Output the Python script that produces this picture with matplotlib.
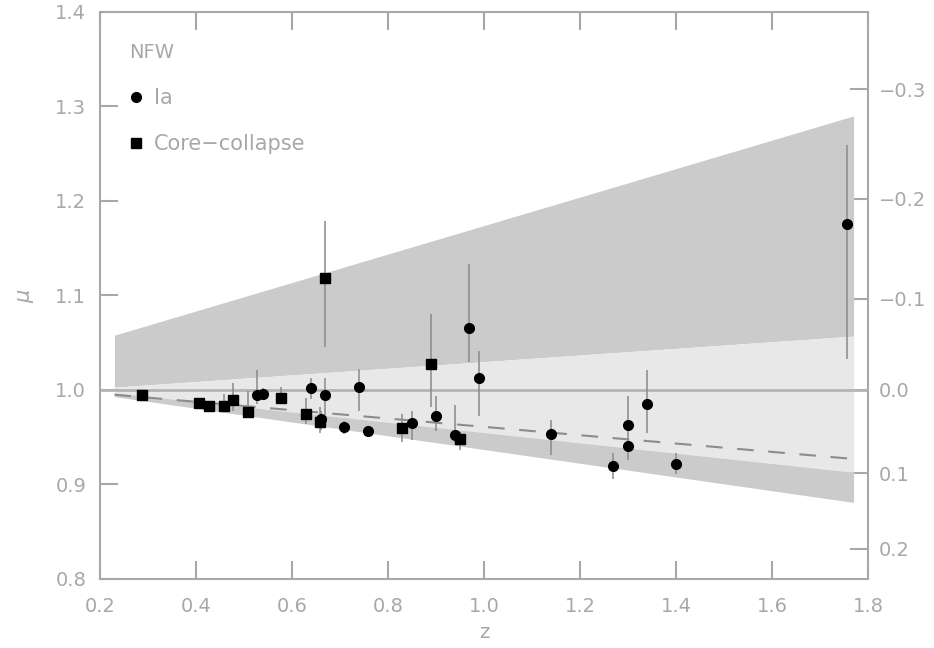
#!/usr/bin/env python3
"""
Magnification mu versus redshift for lensed supernovae (NFW halo model).
"""

import numpy as np
import matplotlib
matplotlib.use('Agg')
import matplotlib.pyplot as plt
from matplotlib.lines import Line2D
from matplotlib.ticker import FixedLocator

# Model bands (edges sampled at the ends of the redshift range)
z_band = [0.23, 1.77]
upper_hi = [1.058, 1.290]
upper_lo = [1.003, 1.057]
light_lo = [0.997, 0.913]
lower_lo = [0.993, 0.881]
mean_curve = [0.995, 0.927]

# Type Ia supernovae: z, mu, lower and upper error bar ends
ia_z = [0.528, 0.539, 0.639, 0.66, 0.669, 0.709, 0.740, 0.759, 0.850, 0.900,
        0.940, 0.969, 0.989, 1.140, 1.269, 1.300, 1.300, 1.340, 1.400, 1.757]
ia_mu = [0.995, 0.996, 1.002, 0.969, 0.995, 0.961, 1.003, 0.957, 0.965, 0.972,
         0.952, 1.066, 1.013, 0.953, 0.920, 0.963, 0.941, 0.985, 0.922, 1.176]
ia_lo = [0.985, 0.990, 0.990, 0.958, 0.974, 0.953, 0.978, 0.950, 0.947, 0.957,
         0.945, 1.030, 0.973, 0.931, 0.906, 0.950, 0.926, 0.954, 0.911, 1.033]
ia_hi = [1.021, 1.002, 1.013, 0.978, 1.013, 0.967, 1.022, 0.962, 0.978, 0.994,
         0.984, 1.133, 1.041, 0.968, 0.933, 0.994, 0.950, 1.021, 0.933, 1.259]

# Core-collapse supernovae
cc_z = [0.287, 0.407, 0.428, 0.458, 0.478, 0.508, 0.578, 0.629, 0.658, 0.669,
        0.829, 0.889, 0.950]
cc_mu = [0.995, 0.986, 0.983, 0.983, 0.989, 0.977, 0.991, 0.975, 0.966, 1.118,
         0.960, 1.027, 0.948]
cc_lo = [0.993, 0.983, 0.980, 0.978, 0.978, 0.974, 0.985, 0.964, 0.955, 1.046,
         0.945, 0.982, 0.936]
cc_hi = [0.997, 0.989, 0.986, 0.996, 1.007, 0.999, 1.003, 0.992, 0.982, 1.179,
         0.975, 1.080, 0.956]

x_ticks = [0.2, 0.4, 0.6, 0.8, 1.0, 1.2, 1.4, 1.6, 1.8]
y_ticks = [0.8, 0.9, 1.0, 1.1, 1.2, 1.3, 1.4]
dm_ticks = [-0.3, -0.2, -0.1, 0.0, 0.1, 0.2]

GREY = '#a8a8a8'
DARK_BAND = '#cbcbcb'
LIGHT_BAND = '#e8e8e8'
ERR = '#8a8a8a'
FS = 14

plt.rcParams['font.family'] = 'DejaVu Sans'

fig = plt.figure(figsize=(9.34, 6.48), dpi=100)
ax = fig.add_axes([0.1071, 0.1065, 0.8222, 0.875])

# Shaded bands
ax.fill_between(z_band, upper_lo, upper_hi, color=DARK_BAND, lw=0, zorder=1)
ax.fill_between(z_band, light_lo, upper_lo, color=LIGHT_BAND, lw=0, zorder=1)
ax.fill_between(z_band, lower_lo, light_lo, color=DARK_BAND, lw=0, zorder=1)

ax.axhline(1.0, color='#b4b4b4', lw=2, zorder=2)
ax.plot(z_band, mean_curve, color='#8c8c8c', lw=1.5, dashes=(8, 7), zorder=2)

# Error bars then markers
ia_err = [np.array(ia_mu) - np.array(ia_lo), np.array(ia_hi) - np.array(ia_mu)]
cc_err = [np.array(cc_mu) - np.array(cc_lo), np.array(cc_hi) - np.array(cc_mu)]
ax.errorbar(ia_z, ia_mu, yerr=ia_err, fmt='none', ecolor=ERR, elinewidth=1.1,
            capsize=0, zorder=3)
ax.errorbar(cc_z, cc_mu, yerr=cc_err, fmt='none', ecolor=ERR, elinewidth=1.1,
            capsize=0, zorder=3)
ax.plot(ia_z, ia_mu, 'o', color='black', ms=7, mec='black', zorder=4)
ax.plot(cc_z, cc_mu, 's', color='black', ms=6.5, mec='black', zorder=4)

ax.set_xlim(0.2, 1.8)
ax.set_ylim(0.8, 1.4)
ax.set_xticks(x_ticks)
ax.set_yticks(y_ticks)
ax.set_xticklabels([f'{t:.1f}' for t in x_ticks])
ax.set_yticklabels([f'{t:.1f}' for t in y_ticks])

for s in ax.spines.values():
    s.set_color(GREY)
    s.set_linewidth(1.5)
ax.spines['right'].set_visible(False)

ax.tick_params(axis='both', which='major', direction='in', length=13, width=1.5,
               color=GREY, labelcolor=GREY, labelsize=FS, pad=10,
               top=True, right=False)
ax.tick_params(axis='x', pad=13)
ax.minorticks_off()

ax.set_xlabel('z', color=GREY, fontsize=FS, labelpad=5)
ax.set_ylabel(r'$\mu$', color=GREY, fontsize=FS + 1, labelpad=14)

# Magnitude axis on the right
sec = ax.secondary_yaxis('right', functions=(lambda m: -2.5 * np.log10(np.clip(m, 1e-6, None)),
                                             lambda d: 10 ** (-d / 2.5)))
sec.yaxis.set_major_locator(FixedLocator(dm_ticks))
sec.spines['right'].set_color(GREY)
sec.spines['right'].set_linewidth(1.5)
sec.tick_params(direction='in', length=13, width=1.5, color=GREY,
                labelcolor=GREY, labelsize=FS, pad=8)
sec.minorticks_off()

# Legend
handles = [Line2D([], [], ls='none', marker='o', color='black', ms=7),
           Line2D([], [], ls='none', marker='s', color='black', ms=6.5)]
leg = ax.legend(handles, ['Ia', 'Core\u2212collapse'], title='NFW',
                loc='upper left', bbox_to_anchor=(0.027, 0.96), frameon=False,
                fontsize=FS + 1, title_fontsize=FS, labelcolor=GREY,
                handlelength=0.7, handletextpad=0.5, labelspacing=1.25,
                borderaxespad=0)
leg.get_title().set_color(GREY)
leg._legend_box.align = 'left'

fig.savefig('out.png', dpi=100)
